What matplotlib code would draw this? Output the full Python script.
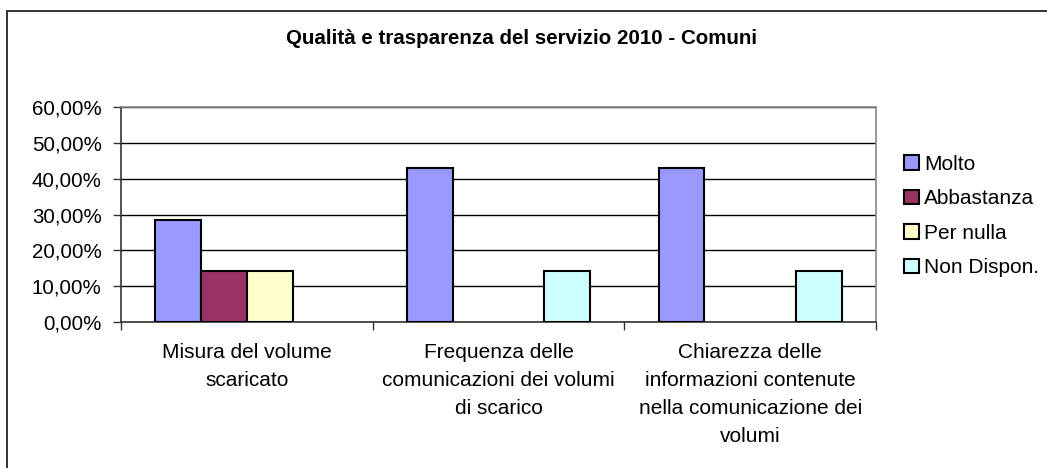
import numpy as np
import matplotlib.pyplot as plt
from matplotlib.patches import Rectangle, Patch
from matplotlib.ticker import FuncFormatter, FixedLocator

plt.rcParams['font.family'] = ['Liberation Sans', 'DejaVu Sans']

# ─── Data ─────────────────────────────────────────────────────────────────────
categories = [
    "Misura del volume\nscaricato",
    "Frequenza delle\ncomunicazioni dei volumi\ndi scarico",
    "Chiarezza delle\ninformazioni contenute\nnella comunicazione dei\nvolumi",
]
series_names = ["Molto", "Abbastanza", "Per nulla", "Non Dispon."]
molto       = [0.2857, 0.4286, 0.4286]
abbastanza  = [0.1429, 0.0, 0.0]
per_nulla   = [0.1429, 0.0, 0.0]
non_dispon  = [0.0, 0.1429, 0.1429]
colors = ["#9999FF", "#993366", "#FFFFCC", "#CCFFFF"]
title = "Qualità e trasparenza del servizio 2010 - Comuni"

# ─── Figure ───────────────────────────────────────────────────────────────────
W, H = 1047, 468
fig = plt.figure(figsize=(W / 100, H / 100), dpi=100)
ax = fig.add_axes([121 / W, 1 - 322 / H, (876 - 121) / W, (322 - 107) / H])

# outer chart border (only left/top visible)
fig.patches.append(Rectangle((7 / W, -0.1), 1.2, 1 - 11 / H + 0.1,
                             transform=fig.transFigure, fill=False,
                             edgecolor="#222222", linewidth=1.3))

x = np.arange(len(categories))
bw = 1 / 5.5
handles = []
for i, (vals, c, name) in enumerate(zip([molto, abbastanza, per_nulla, non_dispon],
                                        colors, series_names)):
    pos = x - 2 * bw + (i + 0.5) * bw
    v = np.array(vals)
    mask = v > 0
    ax.bar(pos[mask], v[mask], width=bw, color=c, edgecolor="black",
           linewidth=1.5, zorder=3)
    handles.append(Patch(facecolor=c, edgecolor="black", linewidth=1.5, label=name))

ax.set_xlim(-0.5, len(categories) - 0.5)
ax.set_ylim(0, 0.6)
ax.set_yticks(np.arange(0, 0.61, 0.1))
ax.yaxis.set_major_formatter(FuncFormatter(lambda v, p: f"{v * 100:.2f}%".replace(".", ",")))
ax.yaxis.grid(True, color="black", linewidth=1, zorder=0)
ax.set_axisbelow(True)

ax.set_xticks(x)
ax.set_xticklabels(categories, fontsize=15, linespacing=1.6)
ax.xaxis.set_minor_locator(FixedLocator(np.arange(-0.5, len(categories), 1)))
ax.tick_params(axis="x", which="major", length=0, pad=15)
ax.tick_params(axis="x", which="minor", length=6, width=1, color="#333333")
ax.tick_params(axis="y", length=6, width=1, labelsize=14.8, pad=8, color="#333333")

for s in ["top", "right"]:
    ax.spines[s].set_color("#888888")
    ax.spines[s].set_linewidth(1.2)
for s in ["left", "bottom"]:
    ax.spines[s].set_color("#333333")
    ax.spines[s].set_linewidth(1.2)

fig.text(522 / W, 1 - 38 / H, title, ha="center", va="center",
         fontsize=14.8, fontweight="bold")

ax.legend(handles=handles, loc="center left", bbox_to_anchor=(904 / W, 1 - 216 / H),
          bbox_transform=fig.transFigure, frameon=False, fontsize=15,
          handlelength=0.7, handleheight=0.7, handletextpad=0.25,
          labelspacing=0.74, borderaxespad=0, borderpad=0)

fig.savefig("out.png", dpi=100)
